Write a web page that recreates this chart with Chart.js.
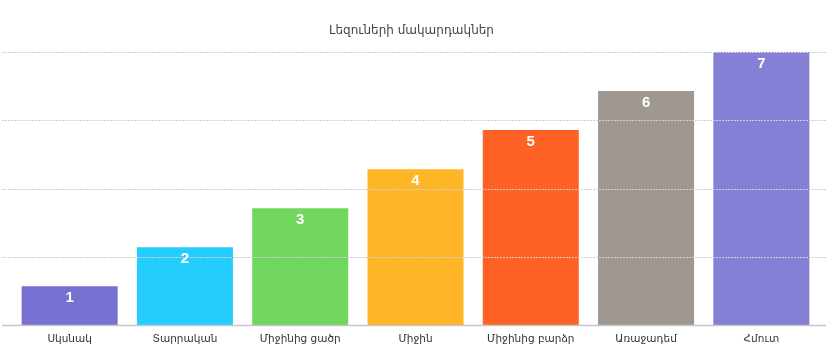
<!DOCTYPE html>
<html>
<head>
<meta charset="utf-8">
<script src="https://cdn.jsdelivr.net/npm/chart.js@4"></script>
<style>
  html, body { margin: 0; padding: 0; background: #fff; }
  #wrap { width: 826px; height: 358px; }
</style>
</head>
<body>
<div id="wrap"><canvas id="grafico"></canvas></div>
<script>
const titulo = "Լեզուների մակարդակներ";
const categorias = ["Սկսնակ", "Տարրական", "Միջինից ցածր", "Միջին", "Միջինից բարձր", "Առաջադեմ", "Հմուտ"];
const valores = [1, 2, 3, 4, 5, 6, 7];
const cores = ["#7670D0", "#24CDFE", "#71D65D", "#FEB526", "#FE6226", "#9E9891", "#857FD6"];
const yMax = 7;
const yPasso = 1.75;

// linhas de grade tracejadas por cima das barras, de ponta a ponta
const gradePlugin = {
    id: "grade",
    afterDatasetsDraw(chart) {
        const ctx = chart.ctx;
        const y = chart.scales.y;
        ctx.save();
        ctx.strokeStyle = "#cfcfcf";
        ctx.lineWidth = 1;
        ctx.setLineDash([2, 1]);
        y.ticks.forEach(function(t) {
            if (t.value === 0) return;
            const py = Math.round(y.getPixelForValue(t.value)) + 0.5;
            ctx.beginPath();
            ctx.moveTo(2, py);
            ctx.lineTo(chart.width, py);
            ctx.stroke();
        });
        ctx.setLineDash([]);
        ctx.strokeStyle = "#c8c8c8";
        ctx.lineWidth = 1.5;
        const base = Math.round(y.getPixelForValue(0)) + 0.5;
        ctx.beginPath();
        ctx.moveTo(2, base);
        ctx.lineTo(chart.width, base);
        ctx.stroke();
        ctx.restore();
    }
};

// valores dentro das barras
const rotuloPlugin = {
    id: "rotulos",
    afterDatasetsDraw(chart) {
        const ctx = chart.ctx;
        const meta = chart.getDatasetMeta(0);
        ctx.save();
        ctx.fillStyle = "#ffffff";
        ctx.font = "bold 15px 'Liberation Sans', Arial, sans-serif";
        ctx.textAlign = "center";
        ctx.textBaseline = "middle";
        meta.data.forEach(function(bar, i) {
            ctx.fillText(String(valores[i]), bar.x, bar.y + 12);
        });
        ctx.restore();
    }
};

new Chart(document.getElementById("grafico").getContext("2d"), {
    type: "bar",
    data: {
        labels: categorias,
        datasets: [{
            data: valores,
            backgroundColor: cores,
            borderWidth: 0,
            categoryPercentage: 0.833,
            barPercentage: 1
        }]
    },
    options: {
        responsive: true,
        maintainAspectRatio: false,
        animation: false,
        layout: { padding: { left: 4, right: 7, top: 0, bottom: 12 } },
        plugins: {
            legend: { display: false },
            tooltip: { enabled: false },
            title: {
                display: true,
                text: titulo,
                color: "#444444",
                font: { family: "'DejaVu Sans', sans-serif", size: 12, weight: "normal" },
                padding: { top: 24, bottom: 13.6 }
            }
        },
        scales: {
            x: {
                grid: { display: false },
                border: { display: false },
                ticks: {
                    color: "#333333",
                    font: { family: "'DejaVu Sans', sans-serif", size: 10.5 },
                    padding: 0
                }
            },
            y: {
                min: 0,
                max: yMax,
                ticks: { display: false, stepSize: yPasso },
                grid: { display: false },
                border: { display: false }
            }
        }
    },
    plugins: [gradePlugin, rotuloPlugin]
});
</script>
</body>
</html>
